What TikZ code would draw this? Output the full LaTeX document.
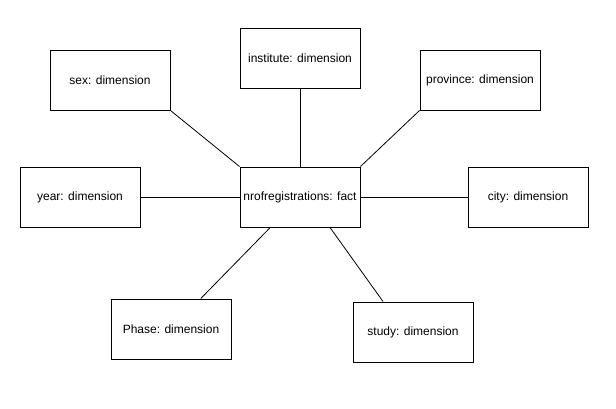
\documentclass[tikz,border=0pt]{standalone}
\usepackage{fontspec}
\setmainfont{Liberation Sans}
\usepackage{tikz}

\begin{document}
\begin{tikzpicture}[x=0.75pt, y=-0.75pt,
    dimbox/.style={draw, line width=0.75pt, minimum width=90pt, minimum height=45pt,
      inner sep=0pt, font=\fontsize{9pt}{11pt}\selectfont},
    link/.style={line width=0.6pt}]
    \useasboundingbox (0,0) rectangle (616,408);

    % Fact table
    \node[dimbox] (fact) at (300,197) {nrofregistrations: fact};

    % Dimensions
    \node[dimbox] (sex) at (110,80) {sex: dimension};
    \node[dimbox] (institute) at (300,58) {institute: dimension};
    \node[dimbox] (province) at (480,80) {province: dimension};
    \node[dimbox] (year) at (80,197) {year: dimension};
    \node[dimbox] (city) at (528,197) {city: dimension};
    \node[dimbox] (phase) at (171,329) {Phase: dimension};
    \node[dimbox] (study) at (413,332) {study: dimension};

    % Links
    \draw[link] (sex.south east) -- (fact.north west);
    \draw[link] (institute) -- (fact);
    \draw[link] (province.south west) -- (fact.north east);
    \draw[link] (year) -- (fact);
    \draw[link] (fact) -- (city);
    \draw[link] (phase) -- (fact);
    \draw[link] ([xshift=22.5pt]fact.south) -- ([xshift=-22.5pt]study.north);
\end{tikzpicture}
\end{document}
